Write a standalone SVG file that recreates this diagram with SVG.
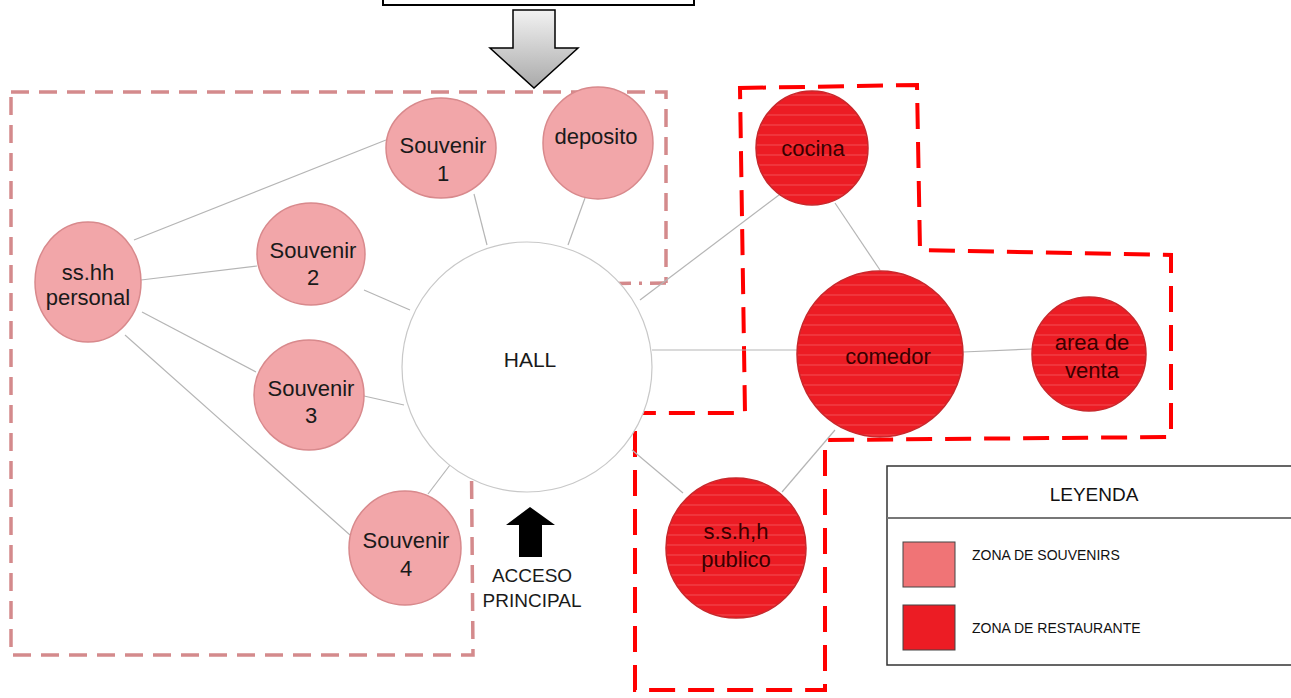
<svg xmlns="http://www.w3.org/2000/svg" width="1291" height="698" viewBox="0 0 1291 698">
<style>
.lbl{font-family:"Liberation Sans",Arial,sans-serif;font-size:22px;fill:#1a1a1a;text-anchor:middle}
.pink{fill:#f2a6a9;stroke:#d8898c;stroke-width:1.5}
.red{fill:url(#stripes);stroke:#c8282c;stroke-width:1.5}
.con line{stroke:#b5b5b5;stroke-width:1.2}
.leg{font-family:"Liberation Sans",Arial,sans-serif;font-size:14px;fill:#111}
.pz{fill:none;stroke:#d48a8c;stroke-width:3.5}
</style>
<defs>
<linearGradient id="g" x1="0" y1="0" x2="0" y2="1">
<stop offset="0" stop-color="#f2f2f2"/><stop offset="1" stop-color="#a9a9a9"/>
</linearGradient>
<pattern id="stripes" width="20" height="10" patternUnits="userSpaceOnUse">
<rect width="20" height="10" fill="#ec1c24"/>
<line x1="0" y1="5" x2="20" y2="5" stroke="#f45a5e" stroke-width="0.8"/>
</pattern>
</defs>
<rect width="1291" height="698" fill="#fff"/>

<g id="top-box"><rect x="383" y="-10" width="311" height="15" fill="#fff" stroke="#000" stroke-width="2"/></g>
<g id="top-arrow"><polygon points="513,10 555,10 555,48 578,48 534,88 490,48 513,48" fill="url(#g)" stroke="#000" stroke-width="1.5"/></g>

<g id="zones">
<path class="pz" d="M11,92 L666,92 L666,283" stroke-dasharray="18,10"/>
<path class="pz" d="M666,283 L470,285" stroke-dasharray="16,8,3,8"/>
<path class="pz" d="M470,285 L473,655 L11,655 L11,92" stroke-dasharray="18,10"/>
<path d="M740,88 L917,85 L920,250 L1171,255 L1171,437 L825,440 L825,690 L635,690 L635,413 L745,413 Z" fill="none" stroke="#ff0000" stroke-width="4" stroke-dasharray="26,13"/>
</g>

<g id="connectors" class="con">
<line x1="134" y1="240" x2="386" y2="140"/>
<line x1="141" y1="280" x2="257" y2="266"/>
<line x1="142" y1="312" x2="256" y2="372"/>
<line x1="125" y1="335" x2="350" y2="535"/>
<line x1="474" y1="194" x2="487" y2="245"/>
<line x1="585" y1="198" x2="568" y2="245"/>
<line x1="364" y1="290" x2="410" y2="310"/>
<line x1="364" y1="396" x2="404" y2="405"/>
<line x1="428" y1="494" x2="450" y2="465"/>
<line x1="640" y1="300" x2="783" y2="192"/>
<line x1="652" y1="350" x2="797" y2="350"/>
<line x1="632" y1="450" x2="683" y2="493"/>
<line x1="835" y1="203" x2="880" y2="270"/>
<line x1="963" y1="352" x2="1032" y2="349"/>
<line x1="835" y1="430" x2="782" y2="492"/>
</g>

<g id="hall"><circle cx="527" cy="367" r="125" fill="#fff" stroke="#c8c8c8" stroke-width="1.2"/><text class="lbl" x="530" y="367" style="font-size:21px">HALL</text></g>

<g id="sshh-personal"><ellipse class="pink" cx="88" cy="282" rx="53" ry="60"/><text class="lbl" x="88" y="280">ss.hh</text><text class="lbl" x="88" y="305">personal</text></g>
<g id="souvenir1"><ellipse class="pink" cx="441" cy="148" rx="55" ry="50"/><text class="lbl" x="443" y="153">Souvenir</text><text class="lbl" x="443" y="181">1</text></g>
<g id="deposito"><ellipse class="pink" cx="598" cy="143" rx="55" ry="56"/><text class="lbl" x="596" y="144">deposito</text></g>
<g id="souvenir2"><ellipse class="pink" cx="311" cy="254" rx="54" ry="51"/><text class="lbl" x="313" y="258">Souvenir</text><text class="lbl" x="313" y="285">2</text></g>
<g id="souvenir3"><ellipse class="pink" cx="309" cy="395" rx="55" ry="55"/><text class="lbl" x="311" y="396">Souvenir</text><text class="lbl" x="311" y="423">3</text></g>
<g id="souvenir4"><ellipse class="pink" cx="405" cy="548" rx="56" ry="57"/><text class="lbl" x="406" y="548">Souvenir</text><text class="lbl" x="406" y="576">4</text></g>

<g id="cocina"><ellipse class="red" cx="812" cy="148" rx="56" ry="57"/><text class="lbl" x="813" y="156" style="fill:#3a0000">cocina</text></g>
<g id="comedor"><circle class="red" cx="880" cy="354" r="83"/><text class="lbl" x="888" y="364" style="fill:#3a0000">comedor</text></g>
<g id="area-venta"><circle class="red" cx="1089" cy="354" r="57"/><text class="lbl" x="1092" y="350" style="fill:#3a0000">area de</text><text class="lbl" x="1092" y="378" style="fill:#3a0000">venta</text></g>
<g id="sshh-publico"><ellipse class="red" cx="736" cy="548" rx="70" ry="70"/><text class="lbl" x="736" y="539" style="fill:#3a0000">s.s.h,h</text><text class="lbl" x="736" y="567" style="fill:#3a0000">publico</text></g>

<g id="acceso">
<polygon points="519,557 542,557 542,525 555,525 530,507 506,525 519,525" fill="#000"/>
<text class="lbl" x="532" y="582" style="font-size:19px">ACCESO</text>
<text class="lbl" x="532" y="607" style="font-size:19px">PRINCIPAL</text>
</g>

<g id="legend">
<rect x="887" y="466" width="410" height="199" fill="#fff" stroke="#333" stroke-width="1.5"/>
<line x1="887" y1="518" x2="1291" y2="518" stroke="#777" stroke-width="2"/>
<text x="1094" y="501" style="font-family:'Liberation Sans',Arial,sans-serif;font-size:19px;fill:#111;text-anchor:middle">LEYENDA</text>
<rect x="903" y="542" width="52" height="45" fill="#f07476" stroke="#444" stroke-width="1"/>
<rect x="903" y="605" width="52" height="45" fill="#ec1c24" stroke="#444" stroke-width="1"/>
<text class="leg" x="972" y="560">ZONA DE SOUVENIRS</text>
<text class="leg" x="972" y="633">ZONA DE RESTAURANTE</text>
</g>
</svg>
